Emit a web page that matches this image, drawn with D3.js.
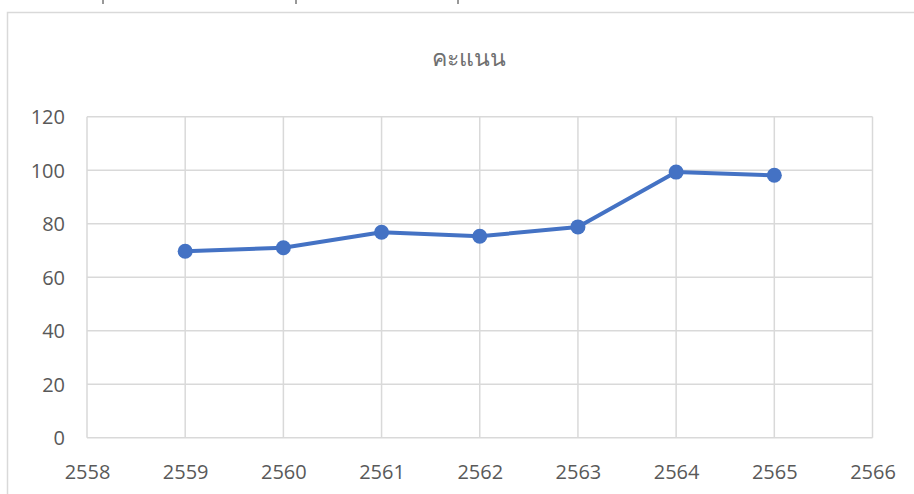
<!DOCTYPE html>
<html>
<head>
<meta charset="utf-8">
<script src="https://cdn.jsdelivr.net/npm/d3@7"></script>
<style>
  body { margin: 0; background: #fff; }
  svg { display: block; }
</style>
</head>
<body>
<svg id="chart"></svg>
<script>
// data
const years = [2559, 2560, 2561, 2562, 2563, 2564, 2565];
const scores = [69.7, 71, 76.8, 75.3, 78.8, 99.3, 98.1];
const xTicks = [2558, 2559, 2560, 2561, 2562, 2563, 2564, 2565, 2566];
const yTicks = [0, 20, 40, 60, 80, 100, 120];
const title = "คะแนน";

const width = 914;
const height = 494;
const plot = { left: 87, right: 872.5, top: 116.7, bottom: 437.7 };

const svg = d3.select("#chart")
  .attr("width", width)
  .attr("height", height);

// chart frame (cut at right/bottom like the screenshot)
svg.append("rect")
  .attr("x", 7.5).attr("y", 12.5)
  .attr("width", 940).attr("height", 520)
  .attr("fill", "#fff")
  .attr("stroke", "#d9d9d9")
  .attr("stroke-width", 1.5);

// small marks left over at the top edge
[103, 296, 458].forEach(x => {
  svg.append("line")
    .attr("x1", x).attr("x2", x).attr("y1", 0).attr("y2", 4)
    .attr("stroke", "#333").attr("stroke-width", 1);
});

const xScale = d3.scaleLinear().domain([2558, 2566]).range([plot.left, plot.right]);
const yScale = d3.scaleLinear().domain([0, 120]).range([plot.bottom, plot.top]);

// grid
svg.append("g").selectAll("line").data(yTicks).enter().append("line")
  .attr("x1", plot.left).attr("x2", plot.right)
  .attr("y1", d => yScale(d)).attr("y2", d => yScale(d))
  .attr("stroke", "#d9d9d9").attr("stroke-width", 1.5);

svg.append("g").selectAll("line").data(xTicks).enter().append("line")
  .attr("x1", d => xScale(d)).attr("x2", d => xScale(d))
  .attr("y1", plot.top).attr("y2", plot.bottom)
  .attr("stroke", "#d9d9d9").attr("stroke-width", 1.5);

// axes labels
const xAxis = d3.axisBottom(xScale).tickValues(xTicks).tickFormat(d3.format("d")).tickSize(0);
const yAxis = d3.axisLeft(yScale).tickValues(yTicks).tickSize(0).tickPadding(22);

const gx = svg.append("g")
  .attr("transform", `translate(0, ${plot.bottom})`)
  .call(xAxis);
const gy = svg.append("g")
  .attr("transform", `translate(${plot.left}, 0)`)
  .call(yAxis);

[gx, gy].forEach(g => {
  g.select(".domain").remove();
  g.selectAll("text")
    .attr("fill", "#595959")
    .style("font-family", "'Open Sans', 'Noto Sans', sans-serif")
    .style("font-size", "20px");
});
gx.selectAll("text").attr("dy", null).attr("y", 41);
gy.selectAll("text").attr("dy", "0.35em");

// title
svg.append("text")
  .attr("x", 469).attr("y", 66)
  .attr("text-anchor", "middle")
  .attr("fill", "#6f6f6f")
  .style("font-family", "sans-serif")
  .style("font-size", "23px")
  .text(title);

// line + markers
const pts = years.map((y, i) => ({ x: y, y: scores[i] }));
const line = d3.line().x(d => xScale(d.x)).y(d => yScale(d.y));

svg.append("path")
  .datum(pts)
  .attr("d", line)
  .attr("fill", "none")
  .attr("stroke", "#4472c4")
  .attr("stroke-width", 4)
  .attr("stroke-linejoin", "round");

svg.selectAll("circle.dot")
  .data(pts)
  .enter()
  .append("circle")
  .attr("class", "dot")
  .attr("cx", d => xScale(d.x))
  .attr("cy", d => yScale(d.y))
  .attr("r", 7.5)
  .attr("fill", "#4472c4");
</script>
</body>
</html>
